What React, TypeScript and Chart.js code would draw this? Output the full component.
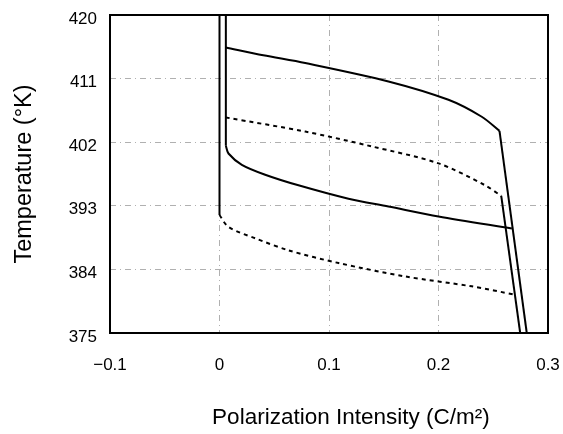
import React, { useEffect, useRef } from "react";
import { Chart, registerables } from "chart.js";

Chart.register(...registerables);

// Left vertical branches (solid)
const leftOuterX = [0, 0];
const leftOuterT = [420, 391.7];
const leftInnerX = [0.0058, 0.0058];
const leftInnerT = [420, 401.5];

// Upper solid curve
const upperSolidX = [0.0058, 0.04, 0.0783, 0.1543, 0.2091, 0.2395, 0.2557];
const upperSolidT = [415.4, 414.3, 413.2, 410.6, 408.0, 405.6, 403.6];

// Outer right line (solid)
const outerLineX = [0.2557, 0.2806];
const outerLineT = [403.6, 375];

// Upper dashed curve
const upperDashX = [0.0058, 0.0783, 0.1391, 0.2, 0.2426, 0.2573];
const upperDashT = [405.5, 403.5, 401.4, 399.0, 395.9, 394.4];

// Inner right line (solid)
const innerLineX = [0.2573, 0.2746];
const innerLineT = [394.4, 375];

// Lower solid curve
const lowerSolidX = [0.0058, 0.0082, 0.0204, 0.0417, 0.0721, 0.1178, 0.1543, 0.2, 0.267];
const lowerSolidT = [401.5, 400.4, 398.8, 397.4, 395.9, 394.0, 392.9, 391.5, 389.8];

// Lower dashed curve
const lowerDashX = [0, 0.0082, 0.0326, 0.063, 0.1087, 0.1696, 0.2304, 0.2706];
const lowerDashT = [391.7, 390.0, 388.4, 386.7, 384.9, 383.0, 381.6, 380.4];

const xTicks = [-0.1, 0, 0.1, 0.2, 0.3];
const yTicks = [375, 384, 393, 402, 411, 420];

const xTitle = "Polarization Intensity (C/m\u00B2)";
const yTitle = "Temperature (\u00B0K)";

const pts = (xs: number[], ys: number[]) => xs.map((x, i) => ({ x, y: ys[i] }));

const FONT = "'Liberation Sans', Arial, Helvetica, sans-serif";

const frame = {
  id: "frame",
  afterDatasetsDraw(chart: any) {
    const { ctx, chartArea } = chart;
    ctx.save();
    ctx.strokeStyle = "#000";
    ctx.lineWidth = 2;
    ctx.strokeRect(chartArea.left, chartArea.top, chartArea.right - chartArea.left, chartArea.bottom - chartArea.top);
    ctx.restore();
  },
  afterDraw(chart: any) {
    const { ctx, chartArea } = chart;
    ctx.save();
    ctx.fillStyle = "#000";
    ctx.font = `22.5px ${FONT}`;
    ctx.textAlign = "center";
    ctx.textBaseline = "middle";
    const cx = chartArea.left + (chartArea.right - chartArea.left) * 0.55;
    ctx.fillText(xTitle, cx, chartArea.bottom + 85);
    ctx.restore();
  },
};

const zeroPad = (s: any) => {
  s.paddingLeft = 0;
  s.paddingRight = 0;
  s.paddingTop = 0;
  s.paddingBottom = 0;
};

export default function App() {
  const ref = useRef<HTMLCanvasElement>(null);

  useEffect(() => {
    if (!ref.current) return;
    const line = (data: any[], dashed: boolean, tension: number) => ({
      data,
      showLine: true,
      borderColor: "#000",
      backgroundColor: "#000",
      borderWidth: 2,
      borderDash: dashed ? [4, 4] : [],
      pointRadius: 0,
      tension,
      fill: false,
    });
    const chart = new Chart(ref.current, {
      type: "scatter",
      data: {
        datasets: [
          line(pts(leftOuterX, leftOuterT), false, 0),
          line(pts(leftInnerX, leftInnerT), false, 0),
          line(pts(upperSolidX, upperSolidT), false, 0.3),
          line(pts(outerLineX, outerLineT), false, 0),
          line(pts(upperDashX, upperDashT), true, 0.3),
          line(pts(innerLineX, innerLineT), false, 0),
          line(pts(lowerSolidX, lowerSolidT), false, 0.3),
          line(pts(lowerDashX, lowerDashT), true, 0.3),
        ],
      },
      options: {
        responsive: false,
        animation: false,
        events: [],
        layout: { padding: { left: 0, top: 15, right: 15, bottom: 0 } },
        plugins: { legend: { display: false }, tooltip: { enabled: false } },
        scales: {
          x: {
            type: "linear",
            min: -0.1,
            max: 0.3,
            afterBuildTicks: (s: any) => {
              s.ticks = xTicks.map((v) => ({ value: v }));
            },
            afterFit: (s: any) => {
              s.height = 101;
              zeroPad(s);
            },
            ticks: {
              color: "#000",
              padding: 22,
              font: { family: FONT, size: 17 },
              callback: (v: any) => {
                const n = Number(v);
                if (Math.abs(n) < 1e-9) return "0";
                return n < 0 ? "\u2212" + Math.abs(n).toFixed(1) : n.toFixed(1);
              },
            },
            grid: {
              color: "#b0b0b0",
              lineWidth: 1,
              drawTicks: false,
            },
            border: { display: false, dash: [6, 4, 1, 4] },
            title: { display: false },
          },
          y: {
            type: "linear",
            min: 375,
            max: 420,
            afterBuildTicks: (s: any) => {
              s.ticks = yTicks.map((v) => ({ value: v }));
            },
            afterFit: (s: any) => {
              s.width = 110;
              zeroPad(s);
            },
            ticks: {
              color: "#000",
              padding: 13,
              labelOffset: 4,
              font: { family: FONT, size: 17 },
              callback: (v: any) => String(Math.round(Number(v))),
            },
            grid: {
              color: "#b0b0b0",
              lineWidth: 1,
              drawTicks: false,
            },
            border: { display: false, dash: [6, 4, 1, 4] },
            title: {
              display: true,
              text: yTitle,
              color: "#000",
              font: { family: FONT, size: 23.5 },
              padding: { top: 10, bottom: 0 },
            },
          },
        },
      },
      plugins: [frame],
    });
    return () => chart.destroy();
  }, []);

  return (
    <div style={{ position: "absolute", left: 0, top: 0, width: 563, height: 434, background: "#fff" }}>
      <canvas ref={ref} width={563} height={434} />
    </div>
  );
}
